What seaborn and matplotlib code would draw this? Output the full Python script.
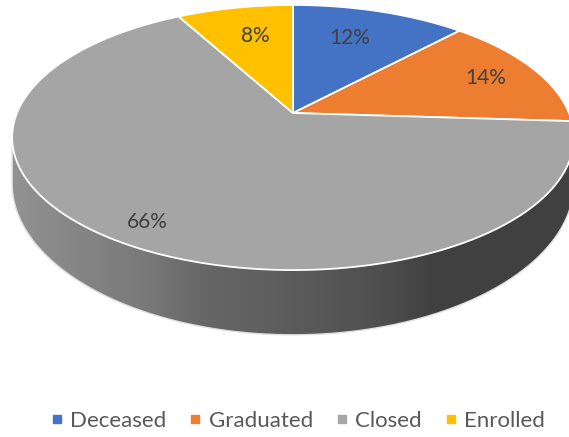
import numpy as np
import pandas as pd
import matplotlib
matplotlib.use("Agg")
import matplotlib.pyplot as plt
from matplotlib.patches import Polygon
from matplotlib.lines import Line2D
import seaborn as sns

# Case outcomes
categories = ["Deceased", "Graduated", "Closed", "Enrolled"]
shares = [12, 14, 66, 8]
colors = ["#4472C4", "#ED7D31", "#A5A5A5", "#FFC000"]

# label placement along each slice's mid-angle (radius fraction, vertical nudge in px)
label_radius = [0.62, 0.79, 0.855, 0.61]
label_nudge = [-8, 0, 2, -9]

df = pd.DataFrame({"category": categories, "share": shares})

sns.set_theme(style="white")
palette = sns.color_palette(colors)
plt.rcParams["font.family"] = ["Lato", "DejaVu Sans"]

W, H = 569, 437
fig = plt.figure(figsize=(W / 100, H / 100), dpi=100)
ax = fig.add_axes([0, 0, 1, 1])

# perspective view of the tilted disc (pixel space)
CX, CY = 293.0, 113.0
A, B, K = 276.0, 128.0, 0.185
DEPTH = 43.0


def project(theta_deg, r=1.0):
    t = np.radians(theta_deg)
    u = r * np.sin(t)
    v = r * np.cos(t)
    w = 1 + K * v
    return CX + A * u / w, CY - B * v / w, w


# --- side wall of the cylinder (front half), shaded left-to-right
th_r = np.degrees(np.arccos(-K))
th_l = 360 - th_r
ths = np.linspace(th_r, th_l, 300)
tx, ty, tw = project(ths)
bx, by = tx, ty + DEPTH / tw ** 2
side_pts = np.column_stack([np.concatenate([tx, bx[::-1]]),
                            np.concatenate([ty, by[::-1]])])
side = Polygon(side_pts, closed=True, facecolor="none", edgecolor="none")
ax.add_patch(side)

gx = np.arange(0, W + 1)
shade = np.interp(gx, [12, 150, 200, 290, 380, 430, W],
                  [146, 120, 103, 92, 79, 65, 64]) / 255.0
grad = np.dstack([shade, shade, shade])
img = ax.imshow(grad, extent=(0, W, 0, H), aspect="auto",
                interpolation="bilinear", zorder=1)
img.set_clip_path(side)

# faint outline around the wall
ax.plot(np.concatenate([[tx[0]], bx, [tx[-1]]]),
        np.concatenate([[ty[0]], by, [ty[-1]]]),
        color="#dedede", lw=1.0, zorder=2)

# --- top face wedges, clockwise from 12 o'clock
total = df["share"].sum()
start = 0.0
mids = []
for i, row in df.iterrows():
    span = row["share"] / total * 360.0
    th = np.linspace(start, start + span, max(int(span * 2), 4))
    rx, ry, _ = project(th)
    pts = np.column_stack([np.concatenate([[CX], rx]),
                           np.concatenate([[CY], ry])])
    ax.add_patch(Polygon(pts, closed=True, facecolor=palette[i],
                         edgecolor="white", lw=1.3, joinstyle="round",
                         zorder=3))
    mids.append(start + span / 2)
    start += span

# percentage labels
for i, row in df.iterrows():
    lx, ly, _ = project(mids[i], label_radius[i])
    ax.text(lx, ly + label_nudge[i], f"{row['share']}%", ha="center",
            va="center", fontsize=15, color="#404040", zorder=4)

ax.set_xlim(0, W)
ax.set_ylim(H, 0)
ax.axis("off")

handles = [Line2D([], [], ls="", marker="s", markersize=5.5,
                  color=palette[i], label=c) for i, c in enumerate(categories)]
leg = fig.legend(handles=handles, loc="center", ncol=4, frameon=False,
                 bbox_to_anchor=(298 / W, 1 - 421 / H), fontsize=16,
                 handlelength=0.5, handletextpad=0.35, columnspacing=1.05)
for t in leg.get_texts():
    t.set_color("#595959")

fig.savefig("out.png", dpi=100, facecolor="white")
